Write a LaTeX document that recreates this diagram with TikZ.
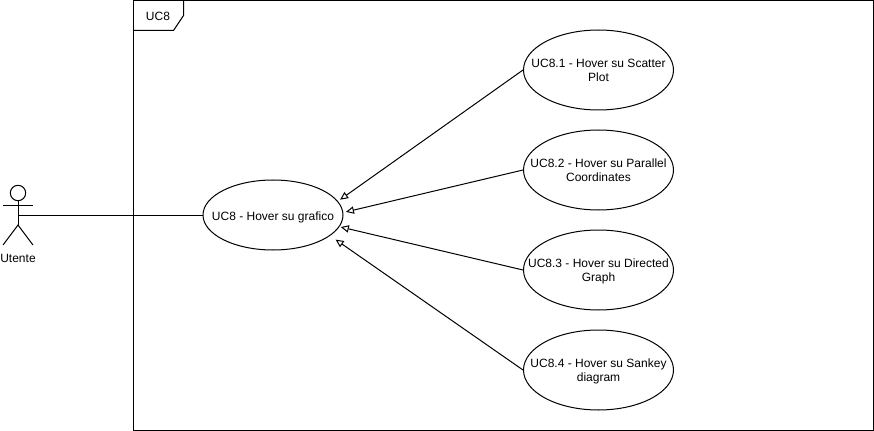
\documentclass[tikz,border=0pt]{standalone}
\usepackage{fontspec}
\setmainfont{Liberation Sans}
\usetikzlibrary{arrows.meta,shapes.geometric}
\tikzset{
  usecase/.style={draw, ellipse, inner xsep=-16pt, inner ysep=-6pt, text height=19.4pt, text depth=2.2pt, minimum width=150*0.75pt, minimum height=80*0.75pt, align=center, font=\fontsize{9}{10.5}\selectfont},
  gen/.style={-{Triangle[open, length=6pt, width=5.5pt]}},
  txt/.style={inner sep=0pt, font=\fontsize{9}{10.5}\selectfont}
}
\begin{document}
\begin{tikzpicture}[x=0.75pt, y=-0.75pt, line width=0.75pt]
  \useasboundingbox (0,0) rectangle (874,431);
  % frame
  \draw (133.5,0.5) rectangle (873.5,430.5);
  \draw (133.5,30.5) -- (173.5,30.5) -- (183.5,15.5) -- (183.5,0.5);
  \node[txt] (frametitle) at (158,16) {UC8};
  % actor
  \draw (18,193) circle (7.7);
  \coordinate (neck) at (18,201);
  \coordinate (hip) at (18,225);
  \coordinate (hand) at (18,215);
  \draw (neck) -- (hip);
  \draw (3,205) -- (33,205);
  \draw (3,245) -- (hip) -- (33,245);
  \node[txt] (utente) at (18,258) {Utente};
  % use cases
  \node[usecase, text height=9.7pt, minimum width=140*0.75pt, minimum height=70*0.75pt] (main) at (273,215) {UC8 - Hover su grafico};
  \node[usecase] (uc81) at (598.5,70) {UC8.1 - Hover su Scatter\\Plot};
  \node[usecase] (uc82) at (598.5,170) {UC8.2 - Hover su Parallel\\Coordinates};
  \node[usecase] (uc83) at (598.5,270) {UC8.3 - Hover su Directed\\Graph};
  \node[usecase] (uc84) at (598.5,370) {UC8.4 - Hover su Sankey\\diagram};
  \draw (hand) -- (main);
  \draw[gen, shorten >=2pt] (uc81.west) -- (main.12);
  \draw[gen, shorten >=2pt] (uc82.west) -- (main.2);
  \draw[gen, shorten >=1pt] (uc83.west) -- (main.-10);
  \draw[gen, shorten >=5pt] (uc84.west) -- (main.-20);
\end{tikzpicture}
\end{document}
